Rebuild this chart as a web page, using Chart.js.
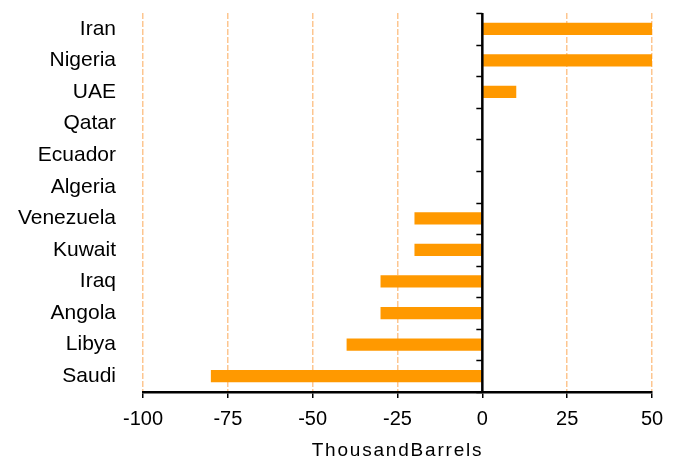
<!DOCTYPE html>
<html>
<head>
<meta charset="utf-8">
<script src="https://cdn.jsdelivr.net/npm/chart.js@4/dist/chart.umd.min.js"></script>
<style>
  html, body { margin: 0; padding: 0; background: #fff; }
  #wrap { width: 678px; height: 461px; }
</style>
</head>
<body>
<div id="wrap"><canvas id="c" width="678" height="461"></canvas></div>
<script>
// Change in output by country (thousand barrels)
const countries = ['Iran', 'Nigeria', 'UAE', 'Qatar', 'Ecuador', 'Algeria',
                   'Venezuela', 'Kuwait', 'Iraq', 'Angola', 'Libya', 'Saudi'];
const changes = [50, 50, 10, 0, 0, 0, -20, -20, -30, -30, -40, -80];
const xTickValues = [-100, -75, -50, -25, 0, 25, 50];
const axisTitle = 'ThousandBarrels';

const FONT = 'Liberation Sans, Arial, sans-serif';
const BAR = '#FF9900';
const GRID = '#FDC690';

// Vertical axis line at x = 0 with small tick marks between categories
const zeroAxisPlugin = {
  id: 'zeroAxis',
  afterDatasetsDraw(chart) {
    const { ctx, chartArea, scales } = chart;
    const x0 = scales.x.getPixelForValue(0);
    const y = scales.y;
    ctx.save();
    ctx.strokeStyle = '#000';
    ctx.lineWidth = 1.5;
    for (let i = 0; i <= countries.length; i++) {
      const py = Math.round(y.getPixelForValue(i - 0.5)) + 0.5;
      ctx.beginPath();
      ctx.moveTo(x0, py);
      ctx.lineTo(x0 - 6, py);
      ctx.stroke();
    }
    ctx.lineWidth = 2.5;
    ctx.beginPath();
    ctx.moveTo(x0, chartArea.top);
    ctx.lineTo(x0, chartArea.bottom);
    ctx.stroke();
    ctx.restore();
  }
};

// Axis title drawn with a little letter spacing under the x axis
const titlePlugin = {
  id: 'axisTitle',
  afterDraw(chart) {
    const { ctx, chartArea } = chart;
    ctx.save();
    ctx.font = '19px ' + FONT;
    if ('letterSpacing' in ctx) ctx.letterSpacing = '1.8px';
    ctx.fillStyle = '#000';
    ctx.textAlign = 'center';
    ctx.textBaseline = 'middle';
    ctx.fillText(axisTitle, (chartArea.left + chartArea.right) / 2, chartArea.bottom + 59);
    ctx.restore();
  }
};

new Chart(document.getElementById('c'), {
  type: 'bar',
  data: {
    labels: countries,
    datasets: [{
      data: changes,
      backgroundColor: BAR,
      borderWidth: 0,
      categoryPercentage: 1,
      barPercentage: 0.39
    }]
  },
  options: {
    indexAxis: 'y',
    responsive: false,
    animation: false,
    events: [],
    layout: { padding: { left: 0, top: 13, right: 26, bottom: 0 } },
    plugins: { legend: { display: false }, tooltip: { enabled: false } },
    scales: {
      x: {
        type: 'linear',
        position: 'bottom',
        min: -100,
        max: 50,
        afterBuildTicks(scale) { scale.ticks = xTickValues.map(v => ({ value: v })); },
        afterFit(scale) { scale.height = 69; },
        ticks: { font: { family: FONT, size: 20 }, color: '#000', padding: 9 },
        grid: {
          color: c => (c.tick && c.tick.value === 0 ? 'rgba(0,0,0,0)' : GRID),
          lineWidth: 1.5,
          drawTicks: true,
          tickLength: 6,
          tickColor: '#000',
          tickWidth: 1.5
        },
        border: { display: true, color: '#000', width: 2.5, dash: [6, 2] }
      },
      y: {
        type: 'category',
        position: 'left',
        offset: true,
        afterFit(scale) { scale.width = 143; },
        ticks: { font: { family: FONT, size: 21 }, color: '#000', padding: 0 },
        grid: { display: false, drawTicks: true, tickLength: 27 },
        border: { display: false }
      }
    }
  },
  plugins: [zeroAxisPlugin, titlePlugin]
});
</script>
</body>
</html>
